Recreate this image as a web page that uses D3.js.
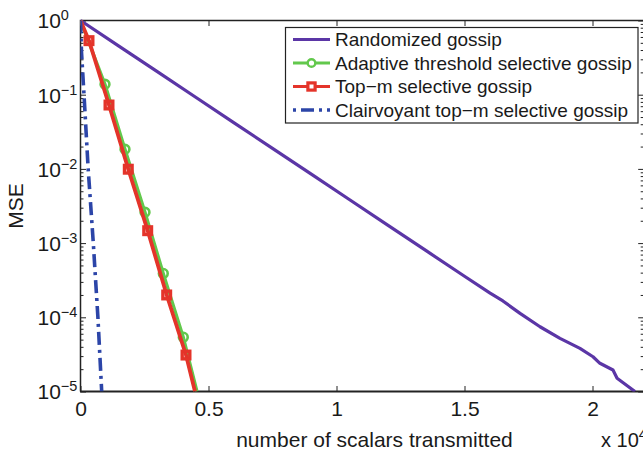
<!DOCTYPE html>
<html lang="en">
<head>
  <meta charset="utf-8">
  <title>MSE vs scalars transmitted</title>
  <script src="https://d3js.org/d3.v7.min.js"></script>
  <style>
    body { margin: 0; background: #fff; }
    text { font-family: "Liberation Sans", Arial, Helvetica, sans-serif; fill: #1a1a1a; }
  </style>
</head>
<body>
<script type="text/javascript">

// data (x = scalars transmitted, y = MSE)
var randX = [0, 1500, 3000, 4500, 6000, 7500, 9000, 10500, 12000, 13500, 15000, 16000, 16500, 17170, 17950, 18730, 19510, 20020, 20290, 20800, 20960, 21660];
var randY = [1, 0.452, 0.205, 0.0925, 0.0418, 0.0189, 0.00855, 0.00387, 0.00175, 7.9e-4, 3.57e-4, 2.12e-4, 1.66e-4, 1.13e-4, 7.46e-5, 5.21e-5, 3.82e-5, 2.94e-5, 2.40e-5, 1.95e-5, 1.51e-5, 1.0e-5];

var adaptX = [0, 957, 1738, 2520, 3234, 4016, 4551];
var adaptY = [1, 0.138, 0.0184, 0.0026, 3.9e-4, 5.4e-5, 1.0e-5];

var topmX = [0, 332, 1113, 1867, 2625, 3367, 4121, 4473];
var topmY = [1, 0.535, 0.0726, 0.0099, 0.00147, 2.0e-4, 3.1e-5, 1.0e-5];

var clairX = [0, 40, 137, 300, 500, 680, 828];
var clairY = [1, 0.37, 0.1, 0.01, 1e-3, 1e-4, 1e-5];

var xTicks = [0, 5000, 10000, 15000, 20000];
var yTicks = [1, 0.1, 0.01, 1e-3, 1e-4, 1e-5];
var yExp = ["0", "\u22121", "\u22122", "\u22123", "\u22124", "\u22125"];

var legendNames = ["Randomized gossip", "Adaptive threshold selective gossip", "Top\u2212m selective gossip", "Clairvoyant top\u2212m selective gossip"];

var svg_width = 643;
var svg_height = 451;
var pL = 80.5, pT = 20.5, pR = 643.7, pB = 391.5;

var svg = d3.select("body")
            .append("svg")
            .attr("width", svg_width)
            .attr("height", svg_height);

var x = d3.scaleLinear().domain([0, 22000]).range([pL, pR]);
var y = d3.scaleLog().domain([1e-5, 1]).range([pB, pT]);

svg.append("clipPath").attr("id", "plotclip")
   .append("rect")
   .attr("x", pL).attr("y", pT - 2)
   .attr("width", pR - pL).attr("height", pB - pT + 2);

// minor log ticks
var minorTicks = y.ticks().filter(function(d) {
    return yTicks.indexOf(d) < 0;
});

function styleAxis(g) {
    g.select(".domain").remove();
    g.selectAll("line").attr("stroke", "#222").attr("stroke-width", 1);
}

svg.append("g").attr("transform", "translate(" + pL + ",0)")
   .call(d3.axisLeft(y).tickValues(yTicks).tickSize(-5.5).tickFormat(""))
   .call(styleAxis);
svg.append("g").attr("transform", "translate(" + pL + ",0)")
   .call(d3.axisLeft(y).tickValues(minorTicks).tickSize(-3).tickFormat(""))
   .call(styleAxis);
svg.append("g").attr("transform", "translate(" + pR + ",0)")
   .call(d3.axisRight(y).tickValues(yTicks).tickSize(-5.5).tickFormat(""))
   .call(styleAxis);
svg.append("g").attr("transform", "translate(" + pR + ",0)")
   .call(d3.axisRight(y).tickValues(minorTicks).tickSize(-3).tickFormat(""))
   .call(styleAxis);

var xAxis = svg.append("g").attr("transform", "translate(0," + pB + ")")
   .call(d3.axisBottom(x).tickValues(xTicks).tickSize(-5.5).tickPadding(9.5)
        .tickFormat(function(d) { return d / 10000; }))
   .call(styleAxis);
xAxis.selectAll("text")
     .attr("font-size", "21px")
     .attr("fill", "#1a1a1a");

svg.append("g").attr("transform", "translate(0," + pT + ")")
   .call(d3.axisTop(x).tickValues(xTicks).tickSize(-5.5).tickFormat(""))
   .call(styleAxis);

// y tick labels 10^k
var ylab = svg.selectAll(".ylab")
   .data(yTicks)
   .enter()
   .append("text")
   .attr("class", "ylab")
   .attr("x", 37.5)
   .attr("y", function(d) { return y(d) + 7.8; })
   .attr("font-size", "21px");
ylab.append("tspan").text("10");
ylab.append("tspan")
    .attr("dy", -8)
    .attr("font-size", "14.5px")
    .text(function(d, i) { return yExp[i]; });

// axes frame
svg.append("path")
   .attr("d", "M" + pL + "," + pB + "V" + pT + "H" + (pR + 2))
   .attr("fill", "none").attr("stroke", "#222").attr("stroke-width", 1.5);
svg.append("line")
   .attr("x1", pL - 0.5).attr("x2", pR + 2)
   .attr("y1", pB).attr("y2", pB)
   .attr("stroke", "#222").attr("stroke-width", 2);

// series
var plot = svg.append("g").attr("clip-path", "url(#plotclip)");

function pts(xs, ys) {
    return xs.map(function(d, i) { return [d, ys[i]]; });
}

var line = d3.line()
    .x(function(d) { return x(d[0]); })
    .y(function(d) { return y(d[1]); });

var cPurple = "#5b36a6", cGreen = "#62c84c", cRed = "#e4342a", cBlue = "#2c45a8";

plot.append("path").datum(pts(randX, randY))
    .attr("d", line).attr("fill", "none")
    .attr("stroke", cPurple).attr("stroke-width", 3.2).attr("stroke-linejoin", "round");

plot.append("path").datum(pts(adaptX, adaptY))
    .attr("d", line).attr("fill", "none")
    .attr("stroke", cGreen).attr("stroke-width", 3.2).attr("stroke-linejoin", "round");

plot.selectAll(".circ")
    .data(pts(adaptX, adaptY).slice(1, -1))
    .enter()
    .append("circle")
    .attr("class", "circ")
    .attr("cx", function(d) { return x(d[0]); })
    .attr("cy", function(d) { return y(d[1]); })
    .attr("r", 4.4)
    .attr("fill", "none").attr("stroke", cGreen).attr("stroke-width", 2.6);

plot.append("path").datum(pts(topmX, topmY))
    .attr("d", line).attr("fill", "none")
    .attr("stroke", cRed).attr("stroke-width", 3.8).attr("stroke-linejoin", "round");

plot.selectAll(".sq")
    .data(pts(topmX, topmY).slice(1, -1))
    .enter()
    .append("rect")
    .attr("class", "sq")
    .attr("x", function(d) { return x(d[0]) - 3.8; })
    .attr("y", function(d) { return y(d[1]) - 3.8; })
    .attr("width", 7.6).attr("height", 7.6)
    .attr("fill", "none").attr("stroke", cRed).attr("stroke-width", 3.4);

plot.append("path").datum(pts(clairX, clairY))
    .attr("d", line).attr("fill", "none")
    .attr("stroke", cBlue).attr("stroke-width", 3.6)
    .attr("stroke-dasharray", "13,5,3,5");

// legend
var lg = svg.append("g");
lg.append("rect")
  .attr("x", 285.5).attr("y", 27.5)
  .attr("width", 352.5).attr("height", 95.5)
  .attr("fill", "#fff").attr("stroke", "#222").attr("stroke-width", 1.2);

var legColors = [cPurple, cGreen, cRed, cBlue];
var rows = lg.selectAll(".row")
  .data(legendNames)
  .enter()
  .append("g")
  .attr("class", "row")
  .attr("transform", function(d, i) { return "translate(0," + (39.5 + i * 23.5) + ")"; });

rows.append("line")
  .attr("x1", 293).attr("x2", 330).attr("y1", 0).attr("y2", 0)
  .attr("stroke", function(d, i) { return legColors[i]; })
  .attr("stroke-width", function(d, i) { return i == 3 ? 3.5 : 3; })
  .attr("stroke-dasharray", function(d, i) { return i == 3 ? "3,5,13,5" : null; });

rows.append("text")
  .attr("x", 335).attr("y", 6.8)
  .attr("font-size", "19px")
  .text(function(d) { return d; });

lg.append("circle")
  .attr("cx", 311.5).attr("cy", 39.5 + 23.5)
  .attr("r", 3.8).attr("fill", "#fff")
  .attr("stroke", cGreen).attr("stroke-width", 2.4);
lg.append("rect")
  .attr("x", 311.5 - 3.6).attr("y", 39.5 + 47 - 3.6)
  .attr("width", 7.2).attr("height", 7.2)
  .attr("fill", "#fff").attr("stroke", cRed).attr("stroke-width", 3.2);

// axis titles
svg.append("text")
   .attr("transform", "translate(23.3," + ((pT + pB) / 2) + ") rotate(-90)")
   .attr("text-anchor", "middle")
   .attr("font-size", "21px")
   .text("MSE");

svg.append("text")
   .attr("x", (235 + 514) / 2).attr("y", 447)
   .attr("text-anchor", "middle")
   .attr("font-size", "21px")
   .text("number of scalars transmitted");

var mult = svg.append("text")
   .attr("x", 601).attr("y", 447)
   .attr("font-size", "20px");
mult.append("tspan").text("x 10");
mult.append("tspan").attr("dy", -8).attr("font-size", "14.5px").text("4");

</script>
</body>
</html>
